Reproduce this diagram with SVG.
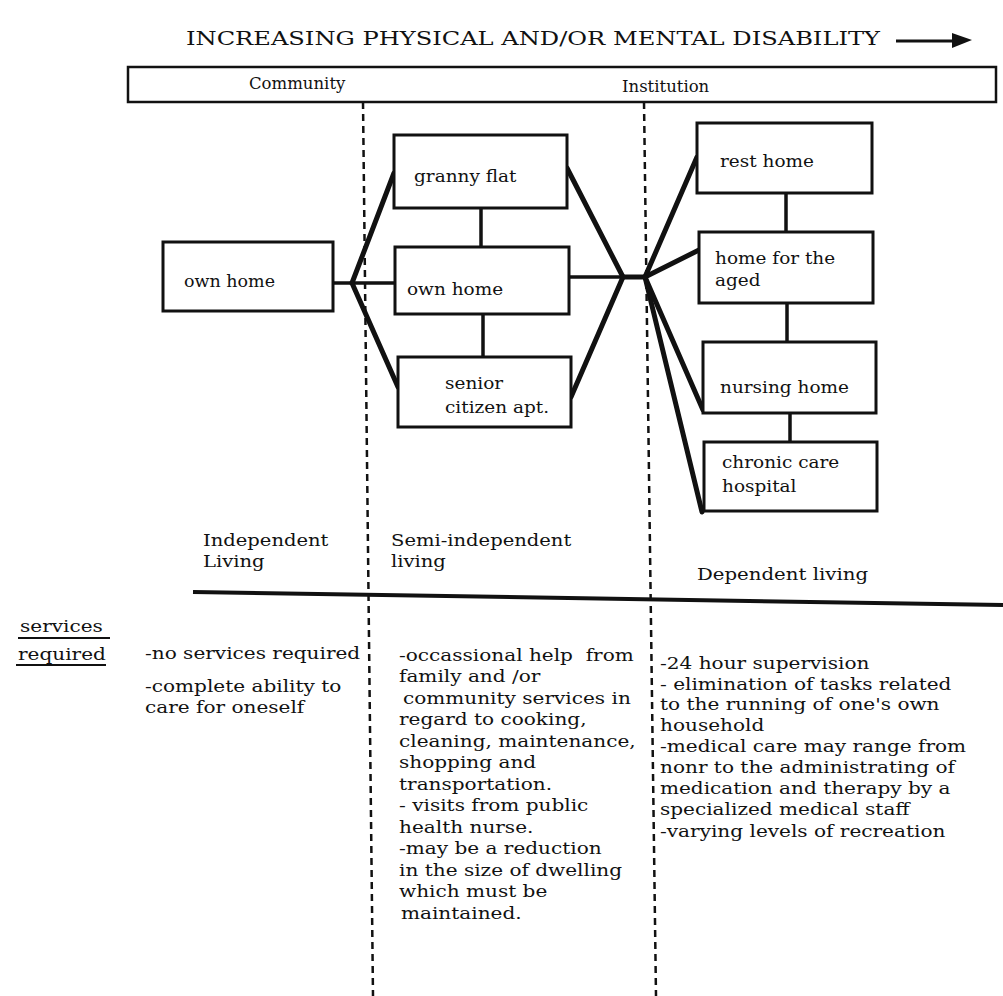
<svg xmlns="http://www.w3.org/2000/svg" width="1003" height="996" viewBox="0 0 1003 996">
<style>
text{font-family:"DejaVu Serif","Liberation Serif",serif;fill:#111}
.t{font-size:16.5px}
.s{font-size:17px;white-space:pre}
.l{font-size:17px}
.h{font-size:16.5px}
.box{fill:#fff;stroke:#111;stroke-width:3}
.thick{stroke:#111;stroke-width:5;stroke-linecap:round;fill:none}
.thin{stroke:#111;stroke-width:3.5;fill:none}
.dash{stroke:#111;stroke-width:2.5;stroke-dasharray:7 5;fill:none}
.ul{stroke:#111;stroke-width:1.8}
</style>
<rect width="1003" height="996" fill="#fff"/>
<g id="header">
<text x="186" y="45" style="font-size:19px" textLength="694" lengthAdjust="spacingAndGlyphs">INCREASING PHYSICAL AND/OR MENTAL DISABILITY</text>
<line x1="896" y1="41" x2="958" y2="41" stroke="#111" stroke-width="3"/>
<polygon points="952,33 972,40 952,48" fill="#111"/>
<rect x="128" y="67" width="868" height="35" fill="none" stroke="#111" stroke-width="2.5"/>
<text class="h" x="249" y="89">Community</text>
<text class="h" x="622" y="92">Institution</text>
</g>
<g id="dividers">
<line class="dash" x1="363" y1="102" x2="373" y2="996"/>
<line class="dash" x1="644" y1="102" x2="656" y2="996"/>
<line x1="193" y1="592" x2="1003" y2="605" stroke="#111" stroke-width="4"/>
</g>
<g id="connectors">
<line class="thin" x1="333" y1="283" x2="395" y2="283"/>
<line class="thick" x1="352" y1="283" x2="394" y2="173"/>
<line class="thick" x1="352" y1="283" x2="398" y2="387"/>
<line class="thin" x1="481" y1="208" x2="481" y2="247"/>
<line class="thin" x1="483" y1="314" x2="483" y2="357"/>
<line class="thick" x1="567" y1="168" x2="623" y2="277"/>
<line class="thick" x1="571" y1="397" x2="623" y2="277"/>
<line class="thin" x1="569" y1="277" x2="645" y2="277"/>
<line class="thick" x1="623" y1="277" x2="645" y2="277"/>
<line class="thick" x1="645" y1="277" x2="697" y2="157"/>
<line class="thick" x1="645" y1="277" x2="699" y2="250"/>
<line class="thick" x1="645" y1="277" x2="703" y2="410"/>
<line class="thick" x1="645" y1="277" x2="702" y2="512"/>
<line class="thin" x1="786" y1="193" x2="786" y2="232"/>
<line class="thin" x1="787" y1="303" x2="787" y2="342"/>
<line class="thin" x1="790" y1="413" x2="790" y2="442"/>
</g>
<g id="own-home-left">
<rect class="box" x="163" y="242" width="170" height="69"/>
<text class="t" transform="translate(184,287) scale(1.06,1)">own home</text>
</g>
<g id="granny-flat">
<rect class="box" x="394" y="135" width="173" height="73"/>
<text class="t" transform="translate(414,182) scale(1.12,1)">granny flat</text>
</g>
<g id="own-home-mid">
<rect class="box" x="395" y="247" width="174" height="67"/>
<text class="t" transform="translate(407,295) scale(1.12,1)">own home</text>
</g>
<g id="senior-citizen-apt">
<rect class="box" x="398" y="357" width="173" height="70"/>
<text class="t" transform="translate(445,389) scale(1.12,1)">senior</text>
<text class="t" transform="translate(445,413) scale(1.12,1)">citizen apt.</text>
</g>
<g id="rest-home">
<rect class="box" x="697" y="123" width="175" height="70"/>
<text class="t" transform="translate(720,167) scale(1.12,1)">rest home</text>
</g>
<g id="home-for-aged">
<rect class="box" x="699" y="232" width="174" height="71"/>
<text class="t" transform="translate(715,264) scale(1.12,1)">home for the</text>
<text class="t" transform="translate(715,286) scale(1.12,1)">aged</text>
</g>
<g id="nursing-home">
<rect class="box" x="703" y="342" width="173" height="71"/>
<text class="t" transform="translate(720,393) scale(1.12,1)">nursing home</text>
</g>
<g id="chronic-care-hospital">
<rect class="box" x="704" y="442" width="173" height="69"/>
<text class="t" transform="translate(722,468) scale(1.12,1)">chronic care</text>
<text class="t" transform="translate(722,492) scale(1.12,1)">hospital</text>
</g>
<g id="levels">
<text class="l" transform="translate(203,546) scale(1.15,1)">Independent</text>
<text class="l" transform="translate(203,567) scale(1.15,1)">Living</text>
<text class="l" transform="translate(391,546) scale(1.15,1)">Semi-independent</text>
<text class="l" transform="translate(391,567) scale(1.15,1)">living</text>
<text class="l" transform="translate(697,580) scale(1.16,1)">Dependent living</text>
</g>
<g id="services">
<text class="s" transform="translate(20,632) scale(1.18,1)">services</text>
<line class="ul" x1="18" y1="638" x2="110" y2="638"/>
<text class="s" transform="translate(18,660) scale(1.18,1)">required</text>
<line class="ul" x1="16" y1="665" x2="106" y2="665"/>
<text class="s" transform="translate(145,659) scale(1.18,1)">-no services required</text>
<text class="s" transform="translate(145,692) scale(1.18,1)">-complete ability to</text>
<text class="s" transform="translate(145,713) scale(1.18,1)">care for oneself</text>
</g>
<g id="semi-services">
<text class="s" transform="translate(399,661) scale(1.18,1)">-occassional help  from</text>
<text class="s" transform="translate(399,682) scale(1.18,1)">family and /or</text>
<text class="s" transform="translate(403,704) scale(1.18,1)">community services in</text>
<text class="s" transform="translate(399,725) scale(1.18,1)">regard to cooking,</text>
<text class="s" transform="translate(399,747) scale(1.18,1)">cleaning, maintenance,</text>
<text class="s" transform="translate(399,768) scale(1.18,1)">shopping and</text>
<text class="s" transform="translate(399,790) scale(1.18,1)">transportation.</text>
<text class="s" transform="translate(399,811) scale(1.18,1)">- visits from public</text>
<text class="s" transform="translate(399,833) scale(1.18,1)">health nurse.</text>
<text class="s" transform="translate(399,854) scale(1.18,1)">-may be a reduction</text>
<text class="s" transform="translate(399,876) scale(1.18,1)">in the size of dwelling</text>
<text class="s" transform="translate(399,897) scale(1.18,1)">which must be</text>
<text class="s" transform="translate(401,919) scale(1.18,1)">maintained.</text>
</g>
<g id="dependent-services">
<text class="s" transform="translate(660,669) scale(1.18,1)">-24 hour supervision</text>
<text class="s" transform="translate(660,690) scale(1.18,1)">- elimination of tasks related</text>
<text class="s" transform="translate(660,710) scale(1.18,1)">to the running of one's own</text>
<text class="s" transform="translate(660,731) scale(1.18,1)">household</text>
<text class="s" transform="translate(660,752) scale(1.18,1)">-medical care may range from</text>
<text class="s" transform="translate(660,773) scale(1.18,1)">nonr to the administrating of</text>
<text class="s" transform="translate(660,794) scale(1.18,1)">medication and therapy by a</text>
<text class="s" transform="translate(660,815) scale(1.18,1)">specialized medical staff</text>
<text class="s" transform="translate(660,837) scale(1.18,1)">-varying levels of recreation</text>
</g>
</svg>
